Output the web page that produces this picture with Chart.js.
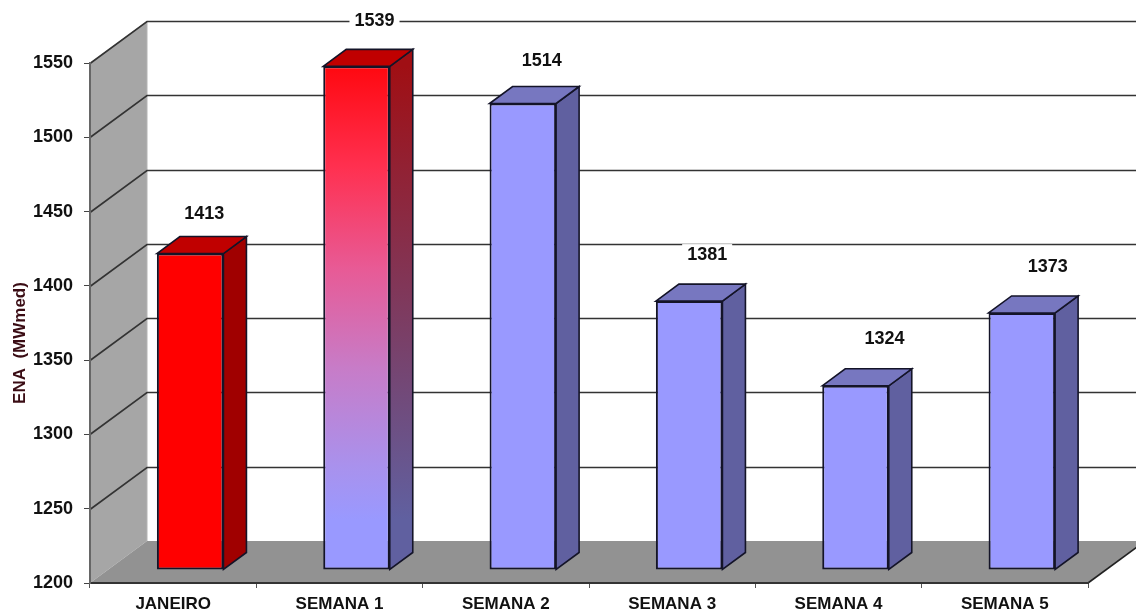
<!DOCTYPE html>
<html>
<head>
<meta charset="utf-8">
<title>ENA</title>
<script src="https://cdn.jsdelivr.net/npm/chart.js@4"></script>
<style>
  html, body { margin: 0; padding: 0; background: #fff; }
  #wrap { width: 1136px; height: 615px; overflow: hidden; }
  /* the original is a slightly soft, scaled up bitmap */
  #myChart { display: block; filter: blur(0.45px); }
</style>
</head>
<body>
<div id="wrap"><canvas id="myChart" width="1136" height="615"></canvas></div>
<script>
const categories = ["JANEIRO", "SEMANA 1", "SEMANA 2", "SEMANA 3", "SEMANA 4", "SEMANA 5"];
const enaValues = [1413, 1539, 1514, 1381, 1324, 1373];
const yTicks = [1200, 1250, 1300, 1350, 1400, 1450, 1500, 1550];

// the hand placed value labels of the original, relative to the bar's top centre
const labelNudgeX = [14, 18, 19, 18, 29, 26];
const labelNudgeY = [-40, -45, -42, -46, -47, -46];

// 3D look: depth of the whole plot, and where the bars stand inside it
const depth = { dx: 57, dy: -42 };
const barShift = { dx: 17, dy: -13 };
const barDepth = { dx: 23, dy: -17 };

const FONT = '"Liberation Sans", Arial, sans-serif';

function polygon(ctx, pts, fill, stroke) {
  ctx.beginPath();
  pts.forEach((p, i) => i ? ctx.lineTo(p[0], p[1]) : ctx.moveTo(p[0], p[1]));
  ctx.closePath();
  ctx.fillStyle = fill;
  ctx.fill();
  if (stroke) {
    ctx.strokeStyle = stroke;
    ctx.lineWidth = 1.6;
    ctx.stroke();
  }
}

// front of the highlighted bar, red on top fading to the normal blue
function frontGradient(ctx, top, bottom) {
  const g = ctx.createLinearGradient(0, top, 0, bottom);
  g.addColorStop(0, "#ff0810");
  g.addColorStop(0.2, "#ff3050");
  g.addColorStop(0.4, "#e85a95");
  g.addColorStop(0.6, "#c77cc8");
  g.addColorStop(0.8, "#a892ee");
  g.addColorStop(0.9, "#9999ff");
  g.addColorStop(1, "#9999ff");
  return g;
}

function sideGradient(ctx, top, bottom) {
  const g = ctx.createLinearGradient(0, top, 0, bottom);
  g.addColorStop(0, "#a00f14");
  g.addColorStop(0.9, "#6060a0");
  g.addColorStop(1, "#6060a0");
  return g;
}

function frontColor(context) {
  if (context.dataIndex === 0) return "#ff0000";
  if (context.dataIndex !== 1) return "#9999ff";
  const { chart } = context;
  if (!chart.chartArea) return "#9999ff";
  const y = chart.scales.y;
  return frontGradient(chart.ctx, y.getPixelForValue(enaValues[1]), y.getPixelForValue(yTicks[0]));
}

const walls3d = {
  id: "walls3d",
  beforeDraw(chart) {
    const { ctx, chartArea: a, scales: { y } } = chart;
    const top = y.getPixelForValue(yTicks[yTicks.length - 1]);
    const bottom = y.getPixelForValue(yTicks[0]);
    ctx.save();
    // side wall
    polygon(ctx, [[a.left, top], [a.left + depth.dx, top + depth.dy],
      [a.left + depth.dx, bottom + depth.dy], [a.left, bottom]], "#a6a6a6");
    ctx.strokeStyle = "#b4b4b4";
    ctx.lineWidth = 1;
    ctx.beginPath();
    ctx.moveTo(a.left + depth.dx, top + depth.dy);
    ctx.lineTo(a.left + depth.dx, bottom + depth.dy);
    ctx.stroke();
    // floor
    polygon(ctx, [[a.left, bottom], [a.left + depth.dx, bottom + depth.dy],
      [a.right + depth.dx, bottom + depth.dy], [a.right, bottom]], "#929292");
    ctx.strokeStyle = "#222";
    ctx.lineWidth = 1.6;
    ctx.beginPath();
    ctx.moveTo(a.right, bottom);
    ctx.lineTo(a.right + depth.dx, bottom + depth.dy);
    ctx.stroke();
    // grid lines run along the side wall and then along the back wall
    yTicks.slice(1).forEach(v => {
      const py = Math.round(y.getPixelForValue(v)) + 0.5;
      ctx.strokeStyle = "#333";
      ctx.lineWidth = 1.6;
      ctx.beginPath();
      ctx.moveTo(a.left, py);
      ctx.lineTo(a.left + depth.dx, py + depth.dy);
      ctx.lineTo(a.right + depth.dx, py + depth.dy);
      ctx.stroke();
    });
    ctx.restore();
  },
  beforeDatasetsDraw(chart) {
    // bars stand inside the plot, not on its front edge
    chart.ctx.save();
    chart.ctx.translate(barShift.dx, barShift.dy);
  },
  afterDatasetsDraw(chart) {
    const { ctx } = chart;
    const meta = chart.getDatasetMeta(0);
    meta.data.forEach((bar, i) => {
      const left = bar.x - bar.width / 2, right = bar.x + bar.width / 2;
      const d = barDepth;
      let topFill = "#7777c0", sideFill = "#6060a0";
      if (i === 0) { topFill = "#c00000"; sideFill = "#a00000"; }
      if (i === 1) {
        topFill = "#c00000";
        sideFill = sideGradient(ctx, bar.y, bar.base);
      }
      polygon(ctx, [[right, bar.y], [right + d.dx, bar.y + d.dy],
        [right + d.dx, bar.base + d.dy], [right, bar.base]], sideFill, "#141428");
      polygon(ctx, [[left, bar.y], [left + d.dx, bar.y + d.dy],
        [right + d.dx, bar.y + d.dy], [right, bar.y]], topFill, "#141428");
    });
    ctx.restore();
    // value labels sit on a white patch that cuts the grid line
    ctx.save();
    ctx.font = "bold 18px " + FONT;
    ctx.textAlign = "center";
    ctx.textBaseline = "middle";
    meta.data.forEach((bar, i) => {
      const x = bar.x + barShift.dx + labelNudgeX[i];
      const yy = bar.y + barShift.dy + labelNudgeY[i];
      const text = String(enaValues[i]);
      const w = ctx.measureText(text).width;
      ctx.fillStyle = "#fff";
      ctx.fillRect(x - w / 2 - 5, yy - 11, w + 10, 22);
      ctx.fillStyle = "#111";
      ctx.fillText(text, x, yy);
    });
    ctx.restore();
    // y axis title, sits below the middle of the axis in the original
    ctx.save();
    ctx.translate(20, 343);
    ctx.rotate(-Math.PI / 2);
    ctx.font = "bold 17px " + FONT;
    ctx.textAlign = "center";
    ctx.textBaseline = "middle";
    ctx.fillStyle = "#3a0c14";
    ctx.fillText("ENA  (MWmed)", 0, 0);
    ctx.restore();
  }
};

new Chart(document.getElementById("myChart"), {
  type: "bar",
  data: {
    labels: categories,
    datasets: [{
      data: enaValues,
      base: yTicks[0],
      backgroundColor: frontColor,
      borderColor: "#141428",
      borderWidth: 2,
      borderSkipped: false,
      categoryPercentage: 1,
      barPercentage: 0.4,
      clip: false
    }]
  },
  options: {
    responsive: false,
    animation: false,
    layout: { padding: { left: 0, top: 63, right: 48, bottom: 0 } },
    plugins: { legend: { display: false }, tooltip: { enabled: false } },
    scales: {
      x: {
        afterFit: s => { s.height = 32; },
        border: { color: "#333", width: 2 },
        grid: { drawOnChartArea: false, tickLength: 5, tickColor: "#555", offset: true },
        ticks: { color: "#111", font: { family: FONT, weight: "bold", size: 17 }, padding: 6, maxRotation: 0 }
      },
      y: {
        min: 1200,
        max: 1550,
        afterFit: s => { s.width = 90; },
        afterBuildTicks: s => { s.ticks = yTicks.map(v => ({ value: v })); },
        border: { color: "#666", width: 2 },
        grid: { drawOnChartArea: false, tickLength: 6, tickColor: "#444" },
        ticks: { color: "#111", callback: v => String(v), font: { family: FONT, weight: "bold", size: 18 }, padding: 11 }
      }
    }
  },
  plugins: [walls3d]
});
</script>
</body>
</html>
